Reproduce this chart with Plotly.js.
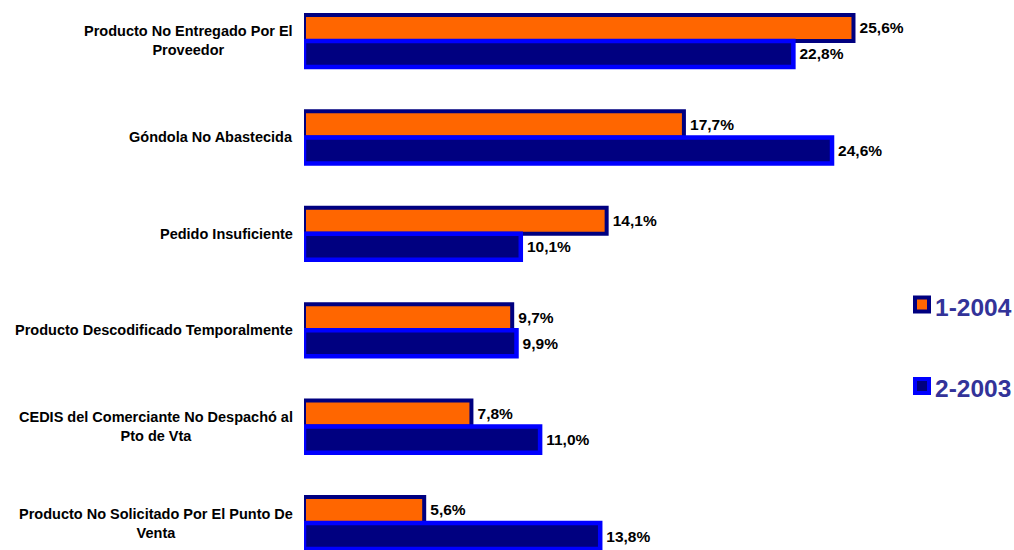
<!DOCTYPE html>
<html>
<head>
<meta charset="utf-8">
<script src="https://cdn.plot.ly/plotly-3.0.1.min.js"></script>
<style>html,body{margin:0;padding:0;background:#fff;}#chart{width:1014px;height:550px;}</style>
</head>
<body>
<div id="chart"></div>
<script>
var categories = [
  "Producto No Entregado Por El<br>Proveedor",
  "Góndola No Abastecida",
  "Pedido Insuficiente",
  "Producto Descodificado Temporalmente",
  "CEDIS del Comerciante No Despachó al<br>Pto de Vta",
  "Producto No Solicitado Por El Punto De<br>Venta"
];
var series1Name = "1-2004";
var series1Values = [25.6, 17.7, 14.1, 9.7, 7.8, 5.6];
var series2Name = "2-2003";
var series2Values = [22.8, 24.6, 10.1, 9.9, 11.0, 13.8];

var idx = categories.map(function(_, i){ return i; });
var fam = "Arial, 'Liberation Sans', sans-serif";
var catFont = {family: fam, size: 14.5, color: "#000000", weight: "bold"};
var valFont = {family: fam, size: 15.5, color: "#000000", weight: "bold"};
var legFont = {family: fam, size: 24.5, color: "#333399", weight: "bold"};

var s1 = {fill: "#FF6600", line: "#000080", lw: 4};
var s2 = {fill: "#000080", line: "#0000FF", lw: 4.5};

var trace1 = {
  type: "bar", orientation: "h", name: series1Name,
  x: series1Values, y: idx,
  marker: {color: s1.fill, line: {color: s1.line, width: s1.lw}},
  text: series1Values, texttemplate: "\u2009%{x:.1f}%", textposition: "outside",
  textfont: valFont, cliponaxis: false, hoverinfo: "x+name"
};
var trace2 = {
  type: "bar", orientation: "h", name: series2Name,
  x: series2Values, y: idx,
  marker: {color: s2.fill, line: {color: s2.line, width: s2.lw}},
  text: series2Values, texttemplate: "\u2009%{x:.1f}%", textposition: "outside",
  textfont: valFont, cliponaxis: false, hoverinfo: "x+name"
};

var W = 1014, H = 550, mL = 304, mR = 109;
var plotW = W - mL - mR;
function px(x){ return (x - mL) / plotW; }
function py(y){ return 1 - y / H; }

var annotations = categories.map(function(c, i){
  return {
    xref: "paper", yref: "y", x: px(294), y: i,
    xanchor: "right", yanchor: "middle", align: "center",
    text: c, showarrow: false, font: catFont, borderpad: 0
  };
});

// manual legend
var legendItems = [
  {name: series1Name, style: s1, cy: 304.5, ty: 307},
  {name: series2Name, style: s2, cy: 386, ty: 388}
];
var shapes = [];
legendItems.forEach(function(it){
  shapes.push({
    type: "rect", xref: "paper", yref: "paper",
    x0: px(915), x1: px(929), y0: py(it.cy - 7), y1: py(it.cy + 7),
    fillcolor: it.style.fill, line: {color: it.style.line, width: 4}
  });
  annotations.push({
    xref: "paper", yref: "paper", x: px(934), y: py(it.ty),
    xanchor: "left", yanchor: "middle", text: it.name, showarrow: false,
    font: legFont, borderpad: 0
  });
});

var layout = {
  width: W, height: H,
  margin: {l: mL, r: mR, t: 0, b: 0, pad: 0, autoexpand: false},
  paper_bgcolor: "#ffffff", plot_bgcolor: "#ffffff",
  barmode: "group", bargap: 0.46, bargroupgap: 0,
  separators: ",.",
  xaxis: {range: [0, 28], visible: false, fixedrange: true},
  yaxis: {type: "linear", range: [5.28, -0.425], visible: false, fixedrange: true},
  showlegend: false,
  annotations: annotations,
  shapes: shapes
};

Plotly.newPlot("chart", [trace1, trace2], layout, {displayModeBar: false, staticPlot: true});
</script>
</body>
</html>
